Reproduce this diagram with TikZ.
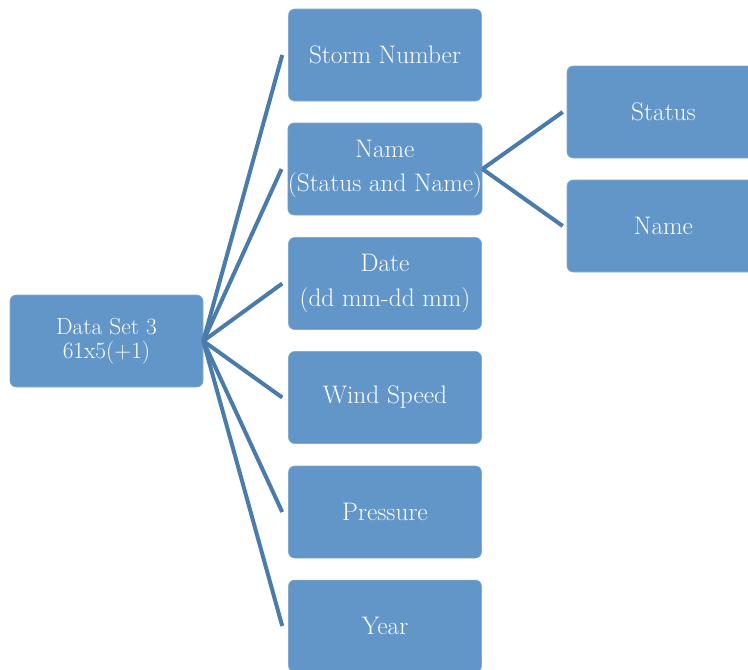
\documentclass[tikz,border=0pt]{standalone}
\usepackage{tikz}
\usepackage{xcolor}
\begin{document}
\begin{tikzpicture}[x=0.75pt,y=-0.75pt,
  mybox/.style={rectangle,rounded corners=4.5pt,fill=boxblue,draw=boxblue!80!white,text=white,inner xsep=0pt,
    minimum width=144.75pt,minimum height=69pt,align=center,font=\fontsize{19}{26}\selectfont},
  myline/.style={draw=lineblue,line width=3pt}]
\definecolor{boxblue}{HTML}{6296C8}
\definecolor{lineblue}{HTML}{4A7BAA}
\useasboundingbox (0,0) rectangle (748,669);
\clip (0,0) rectangle (748,669);
\node [mybox,font=\fontsize{17.5}{18}\selectfont] (root) at (106.5,341) {Data Set 3\\61x5(+1)};
  \foreach \txt/\nm/\pos in {{Storm Number}/storm/55,{Name\\(Status and Name)}/name/169,
    {Date\\(dd mm-dd mm)}/date/283.5,{Wind Speed}/wind/397.5,{Pressure}/press/512,{Year}/year/626}
  {  \node [mybox] (\nm) at (385,\pos) {\txt};
     \draw [myline] (root.east) -- ([xshift=-4.5pt]\nm.west);}
\node [mybox] (status) at (663.5,112) {Status};
\node [mybox] (sname) at (663.5,226) {Name};
\draw [myline] (name.east) -- ([xshift=-3pt]status.west);
\draw [myline] (name.east) -- ([xshift=-3pt]sname.west);
\end{tikzpicture}
\end{document}
